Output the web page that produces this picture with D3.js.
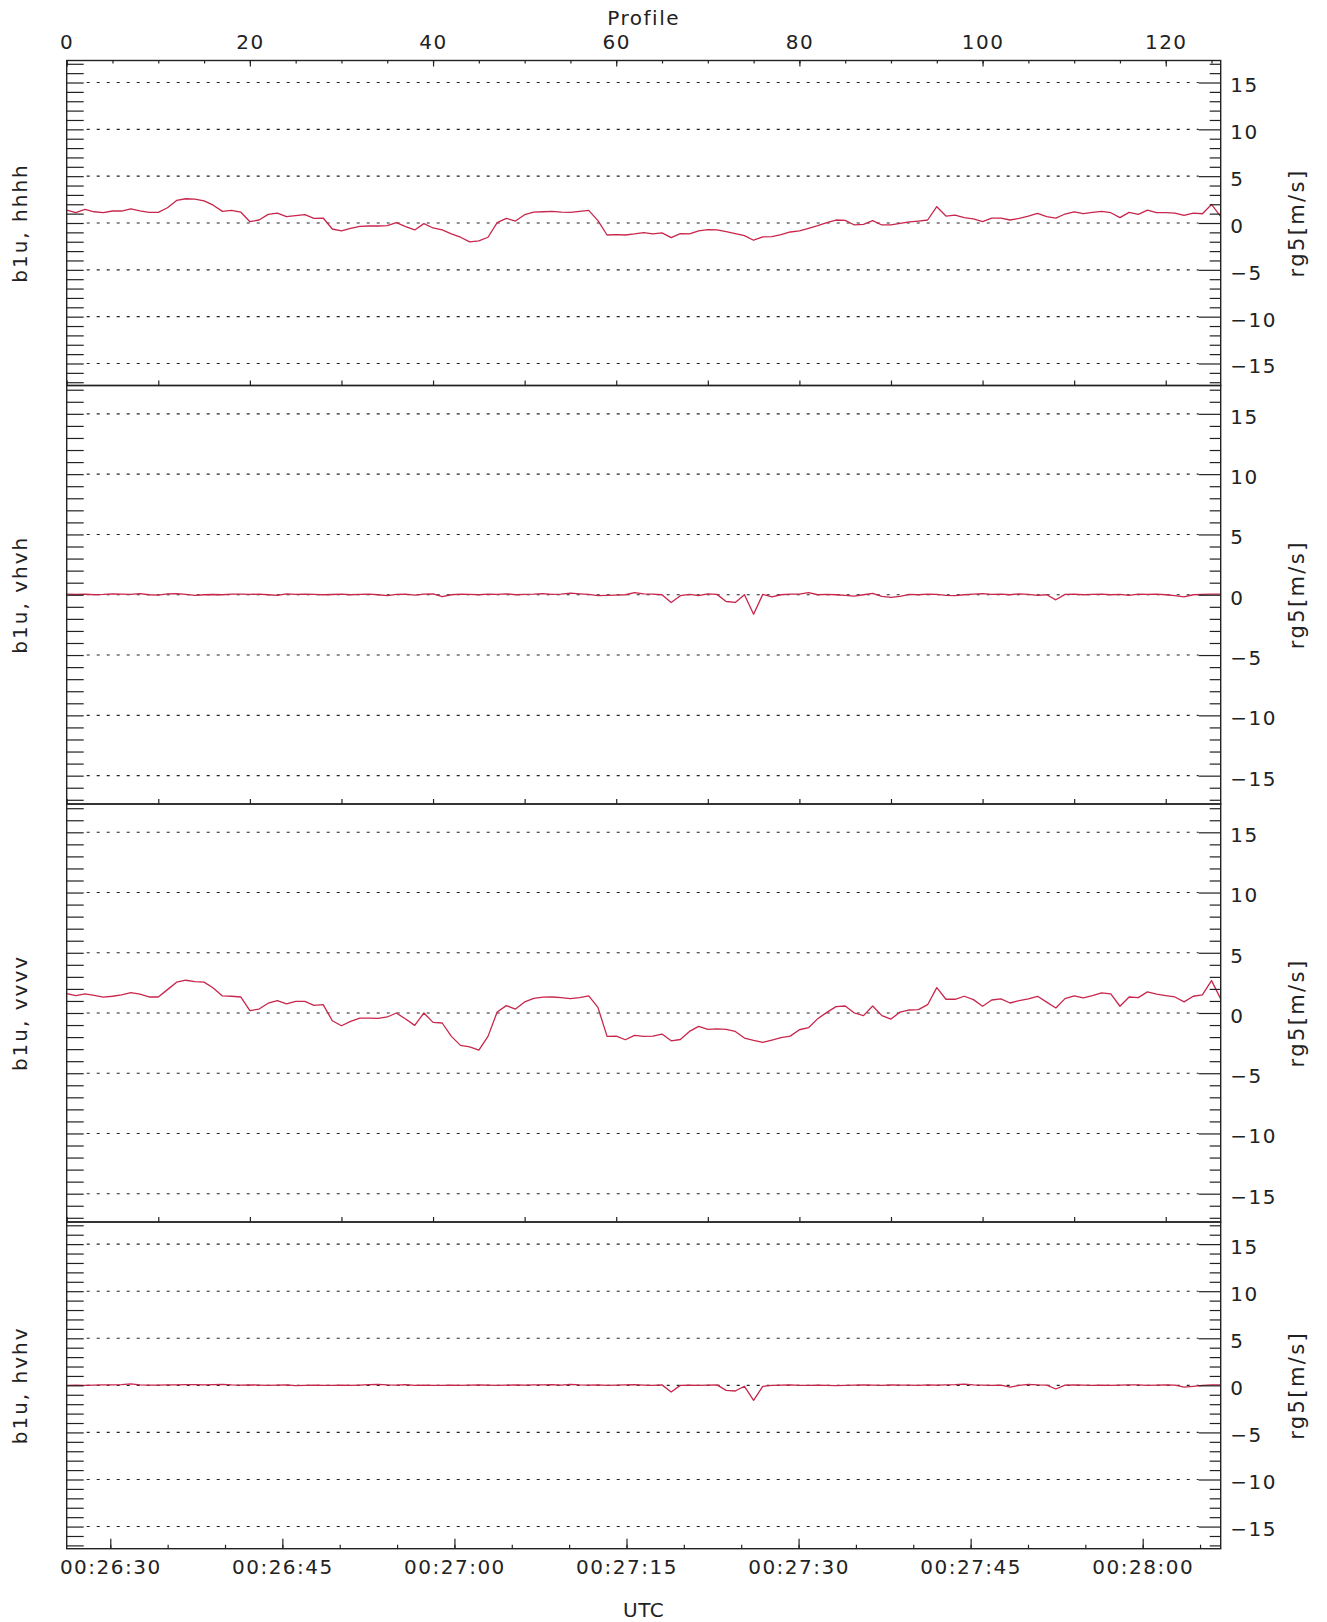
<!DOCTYPE html>
<html><head><meta charset="utf-8">
<script src="https://cdn.jsdelivr.net/npm/d3@7"></script>
<style>
html,body{margin:0;padding:0;background:#fff;}
svg{display:block;}
text{font-family:"DejaVu Sans",sans-serif;fill:#222;}
</style></head><body>
<svg id="chart" width="1327" height="1622"></svg>
<script>
// ---------------- data ----------------
const profileStart = 0, profileEnd = 126;
const profileMajorTicks = [0, 20, 40, 60, 80, 100, 120];
const timeStart = "00:26:26.2", timeEnd = "00:28:06.8";
const timeTickLabels = ["00:26:30","00:26:45","00:27:00","00:27:15","00:27:30","00:27:45","00:28:00"];
const yTickValues = [-15, -10, -5, 0, 5, 10, 15];
const yExtent = 17.35;
const panelLabels = ["b1u, hhhh", "b1u, vhvh", "b1u, vvvv", "b1u, hvhv"];
const unitLabel = "rg5[m/s]";

const hhhh = [1.38,1.10,1.45,1.20,1.10,1.28,1.28,1.52,1.30,1.13,
 1.13,1.63,2.41,2.59,2.55,2.37,1.90,1.24,1.35,1.17,
 0.14,0.32,0.92,1.06,0.67,0.78,0.89,0.50,0.53,-0.64,
 -0.85,-0.57,-0.35,-0.32,-0.32,-0.28,0.04,-0.39,-0.74,-0.07,
 -0.53,-0.74,-1.17,-1.52,-2.02,-1.91,-1.52,0.04,0.50,0.21,
 0.89,1.17,1.20,1.24,1.17,1.13,1.24,1.35,0.25,-1.28,
 -1.24,-1.28,-1.17,-1.03,-1.17,-1.06,-1.56,-1.13,-1.17,-0.85,
 -0.71,-0.74,-0.92,-1.13,-1.35,-1.84,-1.49,-1.45,-1.24,-0.96,
 -0.85,-0.57,-0.28,0.04,0.32,0.28,-0.21,-0.14,0.25,-0.21,
 -0.21,-0.04,0.11,0.21,0.32,1.74,0.74,0.85,0.57,0.43,
 0.14,0.53,0.53,0.32,0.50,0.74,1.03,0.67,0.53,0.96,
 1.20,0.99,1.13,1.24,1.10,0.57,1.13,0.92,1.38,1.10,
 1.10,1.06,0.82,1.06,0.99,1.98,0.67];

const vhvh = [0.05,0.02,0.05,0.0,0.03,0.08,0.05,0.03,0.1,0.0,
 -0.03,0.08,0.1,0.03,-0.05,0.0,0.02,0.0,0.05,0.05,
 0.03,0.05,0.0,-0.05,0.08,0.03,0.05,0.03,0.0,0.02,
 0.05,0.0,0.03,0.05,0.0,-0.08,0.03,0.05,-0.03,0.05,
 0.08,-0.15,0.0,0.05,0.03,0.0,0.05,0.03,0.08,0.0,
 0.03,0.05,0.1,0.03,0.05,0.14,0.08,0.03,
 -0.08,-0.05,-0.03,0.0,0.17,0.08,0.05,0.0,-0.64,-0.08,
 0.03,-0.08,0.08,0.03,-0.56,-0.64,0.0,-1.61,0.03,-0.17,
 0.0,0.05,0.05,0.17,0.0,0.03,0.0,-0.05,-0.11,0.0,
 0.11,-0.14,-0.22,-0.14,
 0.03,0.0,0.05,0.03,-0.05,-0.08,0.0,0.05,0.1,0.03,
 0.05,0.0,0.08,0.03,-0.05,0.0,-0.42,0.03,0.05,0.0,
 0.03,0.05,0.0,0.03,-0.05,0.05,0.03,0.05,0.0,-0.08,
 -0.17,0.0,0.03,0.05,0.05];

const vvvv = [1.61,1.44,1.58,1.47,1.31,1.39,1.50,1.69,1.56,1.33,
 1.33,1.94,2.56,2.72,2.61,2.56,2.08,1.42,1.39,1.33,
 0.19,0.33,0.81,1.03,0.75,0.97,0.97,0.64,0.69,-0.64,
 -1.06,-0.69,-0.42,-0.42,-0.44,-0.33,0.00,-0.50,-1.03,0.00,
 -0.78,-0.83,-1.94,-2.69,-2.81,-3.08,-1.94,0.08,0.61,0.33,
 0.92,1.22,1.31,1.33,1.28,1.19,1.28,1.42,0.47,-1.94,
 -1.92,-2.22,-1.86,-1.94,-1.92,-1.75,-2.31,-2.20,-1.53,-1.11,
 -1.36,-1.31,-1.36,-1.53,-2.08,-2.28,-2.44,-2.25,-2.05,-1.92,
 -1.39,-1.22,-0.47,0.05,0.53,0.58,0.00,-0.22,0.58,-0.22,
 -0.50,0.08,0.25,0.28,0.69,2.11,1.14,1.14,1.39,1.11,
 0.56,1.08,1.17,0.83,1.03,1.17,1.39,0.90,0.42,1.19,
 1.42,1.25,1.44,1.67,1.58,0.56,1.33,1.28,1.75,1.56,
 1.44,1.33,0.92,1.39,1.50,2.69,1.17];

const hvhv = [0.0,0.03,0.0,0.03,0.05,0.05,0.08,0.15,0.05,0.03,
 0.03,0.05,0.05,0.08,0.08,0.05,0.08,0.1,0.05,0.03,
 0.05,0.03,0.0,0.03,0.05,-0.03,0.0,0.03,0.0,0.0,
 0.03,0.0,0.03,0.08,0.1,0.05,0.03,0.08,0.0,0.03,
 0.0,0.0,0.03,0.0,0.03,0.05,0.03,0.0,0.03,0.05,
 0.03,0.05,0.05,0.08,0.03,0.1,0.05,0.03,
 0.05,0.0,0.03,0.05,0.08,0.03,0.0,0.05,-0.71,0.0,
 0.03,0.0,0.03,0.05,-0.53,-0.6,-0.1,-1.59,-0.1,0.0,
 0.03,0.05,0.0,0.0,0.03,0.0,-0.03,0.0,0.03,0.05,
 0.03,0.0,0.05,0.03,
 0.03,0.0,0.05,0.03,0.05,0.08,0.14,0.05,0.03,0.0,
 0.03,-0.2,0.0,0.1,0.05,0.03,-0.39,0.03,0.05,0.03,
 0.0,0.03,0.0,0.03,0.05,0.05,0.0,0.03,0.05,0.03,
 -0.18,-0.1,0.0,0.05,0.05];

const series = [hhhh, vhvh, vvvv, hvhv];

// ---------------- layout ----------------
const W = 1327, H = 1622;
const left = 66.7, right = 1220.7;
const panelTops = [60.5, 385.5, 804, 1222];
const panelBottoms = [385.5, 804, 1222, 1548.7];
const lineColor = "#c8264c";
const ink = "#222";

function parseT(s) {
  const [h, m, sec] = s.split(":");
  return new Date(Date.UTC(2000, 0, 1, +h, +m, 0) + (+sec) * 1000);
}

const svg = d3.select("#chart");
const x = d3.scaleLinear().domain([profileStart, profileEnd]).range([left, right]);
const xt = d3.scaleUtc().domain([parseT(timeStart), parseT(timeEnd)]).range([left, right]);

function styleAxis(g) {
  g.select(".domain").remove();
  g.selectAll(".tick line").attr("stroke", ink).attr("stroke-width", 1.2);
  g.selectAll(".tick text").attr("fill", ink).style("font-family", '"DejaVu Sans",sans-serif')
    .style("font-size", "20px").style("letter-spacing", "1.5px");
}

panelTops.forEach((top, i) => {
  const bottom = panelBottoms[i];
  const y = d3.scaleLinear().domain([-yExtent, yExtent]).range([bottom, top]);
  const g = svg.append("g");

  // dotted grid lines
  g.selectAll("line.grid").data(yTickValues).join("line")
    .attr("class", "grid")
    .attr("x1", left + 20).attr("x2", right - 22)
    .attr("y1", d => y(d)).attr("y2", d => y(d))
    .attr("stroke", ink).attr("stroke-width", 1.1)
    .attr("stroke-dasharray", "3,7");

  // data line
  const line = d3.line().x((d, k) => x(profileStart + k)).y(d => y(d));
  g.append("path").datum(series[i])
    .attr("d", line).attr("fill", "none")
    .attr("stroke", lineColor).attr("stroke-width", 1.3)
    .attr("stroke-linejoin", "round");

  // left ticks (inward)
  const minorY = d3.range(-17, 18);
  g.append("g").attr("transform", `translate(${left},0)`)
    .call(d3.axisRight(y).tickValues(minorY).tickSize(17).tickFormat(""))
    .call(styleAxis);

  // right ticks (inward): minor and major
  g.append("g").attr("transform", `translate(${right},0)`)
    .call(d3.axisLeft(y).tickValues(minorY.filter(v => v % 5 !== 0)).tickSize(11).tickFormat(""))
    .call(styleAxis);
  g.append("g").attr("transform", `translate(${right},0)`)
    .call(d3.axisLeft(y).tickValues(yTickValues).tickSize(22).tickFormat(""))
    .call(styleAxis);
  // right labels
  const rl = g.append("g").attr("transform", `translate(${right},0)`)
    .call(d3.axisRight(y).tickValues(yTickValues).tickSize(0).tickPadding(9.5))
    .call(styleAxis);
  rl.selectAll(".tick text").attr("dy", "0.47em");

  // frame
  g.append("rect").attr("x", left).attr("y", top)
    .attr("width", right - left).attr("height", bottom - top)
    .attr("fill", "none").attr("stroke", ink).attr("stroke-width", 1.4);

  // bottom-of-panel profile ticks for upper panels
  if (i < 3) {
    g.append("g").attr("transform", `translate(0,${bottom})`)
      .call(d3.axisTop(x).tickValues(d3.range(profileStart, profileEnd + 1, 10)).tickSize(5).tickFormat(""))
      .call(styleAxis);
  }

  // rotated labels
  const cy = (top + bottom) / 2;
  g.append("text").attr("transform", `translate(27,${cy}) rotate(-90)`)
    .attr("text-anchor", "middle").style("font-size", "20px").style("letter-spacing", "2px")
    .text(panelLabels[i]);
  g.append("text").attr("transform", `translate(1304,${cy}) rotate(-90)`)
    .attr("text-anchor", "middle").style("font-size", "21px").style("letter-spacing", "2.4px")
    .text(unitLabel);
});

// top profile axis
const topY = panelTops[0];
svg.append("g").attr("transform", `translate(0,${topY})`)
  .call(d3.axisBottom(x).tickValues(d3.range(profileStart, profileEnd + 1, 5)).tickSize(3).tickFormat(""))
  .call(styleAxis);
svg.append("g").attr("transform", `translate(0,${topY})`)
  .call(d3.axisBottom(x).tickValues(profileMajorTicks).tickSize(6).tickFormat(""))
  .call(styleAxis);
svg.append("g").attr("transform", `translate(0,${topY})`)
  .call(d3.axisTop(x).tickValues(profileMajorTicks).tickSize(0).tickPadding(11.5))
  .call(styleAxis);
svg.append("text").attr("x", (left + right) / 2).attr("y", 25)
  .attr("text-anchor", "middle").style("font-size", "20px").style("letter-spacing", "1.5px")
  .text("Profile");

// bottom time axis
const botY = panelBottoms[3];
const timeTicks = timeTickLabels.map(parseT);
const minorTimeTicks = xt.ticks(d3.utcSecond.every(5));
svg.append("g").attr("transform", `translate(0,${botY})`)
  .call(d3.axisTop(xt).tickValues(minorTimeTicks).tickSize(4).tickFormat(""))
  .call(styleAxis);
svg.append("g").attr("transform", `translate(0,${botY})`)
  .call(d3.axisTop(xt).tickValues(timeTicks).tickSize(10).tickFormat(""))
  .call(styleAxis);
const bl = svg.append("g").attr("transform", `translate(0,${botY})`)
  .call(d3.axisBottom(xt).tickValues(timeTicks).tickSize(0).tickPadding(11)
    .tickFormat((d, k) => timeTickLabels[k]))
  .call(styleAxis);
svg.append("text").attr("x", (left + right) / 2).attr("y", 1617)
  .attr("text-anchor", "middle").style("font-size", "20px").style("letter-spacing", "0.5px")
  .text("UTC");
</script>
</body></html>
